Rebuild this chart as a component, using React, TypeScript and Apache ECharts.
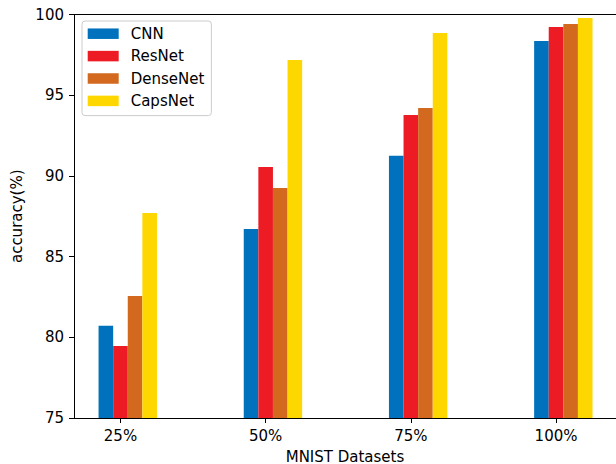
import React, { useEffect, useRef } from "react";
import * as echarts from "echarts";

const categories = ["25%", "50%", "75%", "100%"];
const seriesNames = ["CNN", "ResNet", "DenseNet", "CapsNet"];
const cnn = [80.72, 86.71, 91.25, 98.36];
const resnet = [79.46, 90.55, 93.77, 99.23];
const densenet = [82.56, 89.25, 94.21, 99.41];
const capsnet = [87.7, 97.18, 98.85, 99.78];
const yTicks = [75, 80, 85, 90, 95, 100];
const colors = ["#0072BD", "#ED1C24", "#D2691E", "#FFD700"];

const FONT = "DejaVu Sans";

export default function App() {
  const ref = useRef<HTMLDivElement>(null);
  useEffect(() => {
    if (!ref.current) return;
    document.body.style.margin = "0";
    document.body.style.overflow = "hidden";
    const chart = echarts.init(ref.current, undefined, { renderer: "svg" });
    const values = [cnn, resnet, densenet, capsnet];
    const barW = 14.6;
    const xMin = -0.32;
    const xMax = 3.413;
    const series: any[] = [
      {
        name: "__pad",
        type: "bar",
        data: [],
        barWidth: barW,
        barGap: "0%",
      },
      ...seriesNames.map((name, si) => ({
        name,
        type: "bar",
        barWidth: barW,
        barGap: "0%",
        itemStyle: { color: colors[si] },
        data: values[si].map((v, i) => [i, v]),
      })),
    ];
    chart.setOption({
      animation: false,
      backgroundColor: "#ffffff",
      textStyle: { fontFamily: FONT },
      grid: {
        left: 74,
        top: 14.5,
        width: 542,
        height: 403.5,
        containLabel: false,
        outerBoundsMode: "none",
      },
      legend: {
        data: seriesNames,
        orient: "vertical",
        left: 82,
        top: 21,
        icon: "rect",
        itemWidth: 31,
        itemHeight: 10.5,
        itemGap: 7.4,
        padding: [5.2, 7, 7.2, 5.7],
        borderColor: "#cccccc",
        borderWidth: 1,
        borderRadius: 3,
        backgroundColor: "rgba(255,255,255,0.8)",
        textStyle: {
          fontFamily: FONT,
          fontSize: 15,
          color: "#000",
          lineHeight: 15,
          padding: [0, 0, 0, 7],
        },
      },
      xAxis: [
        {
          type: "value",
          min: xMin,
          max: xMax,
          name: "MNIST Datasets",
          nameLocation: "middle",
          nameGap: 31,
          nameTextStyle: { fontFamily: FONT, fontSize: 15, color: "#000" },
          axisLine: { show: true, onZero: false, lineStyle: { color: "#000", width: 1 } },
          axisTick: {
            show: true,
            length: 5,
            customValues: categories.map((_, i) => i),
            lineStyle: { color: "#000" },
          },
          axisLabel: {
            show: true,
            margin: 10,
            fontFamily: FONT,
            fontSize: 15,
            color: "#000",
            customValues: categories.map((_, i) => i),
            formatter: (v: number) => categories[Math.round(v)] ?? "",
          },
          splitLine: { show: false },
        },
        {
          type: "value",
          position: "top",
          min: xMin,
          max: xMax,
          axisLine: { show: true, onZero: false, lineStyle: { color: "#000", width: 1 } },
          axisTick: { show: false },
          axisLabel: { show: false },
          splitLine: { show: false },
        },
      ],
      yAxis: {
        type: "value",
        min: yTicks[0],
        max: yTicks[yTicks.length - 1],
        interval: 5,
        name: "accuracy(%)",
        nameLocation: "middle",
        nameGap: 42,
        nameTextStyle: { fontFamily: FONT, fontSize: 15, color: "#000" },
        axisLine: { show: true, onZero: false, lineStyle: { color: "#000", width: 1 } },
        axisTick: { show: true, length: 5, lineStyle: { color: "#000" } },
        axisLabel: {
          margin: 10,
          fontFamily: FONT,
          fontSize: 15,
          color: "#000",
        },
        splitLine: { show: false },
      },
      series,
    });
    return () => chart.dispose();
  }, []);
  return (
    <div
      ref={ref}
      style={{ width: 616, height: 464, overflow: "hidden" }}
    />
  );
}
